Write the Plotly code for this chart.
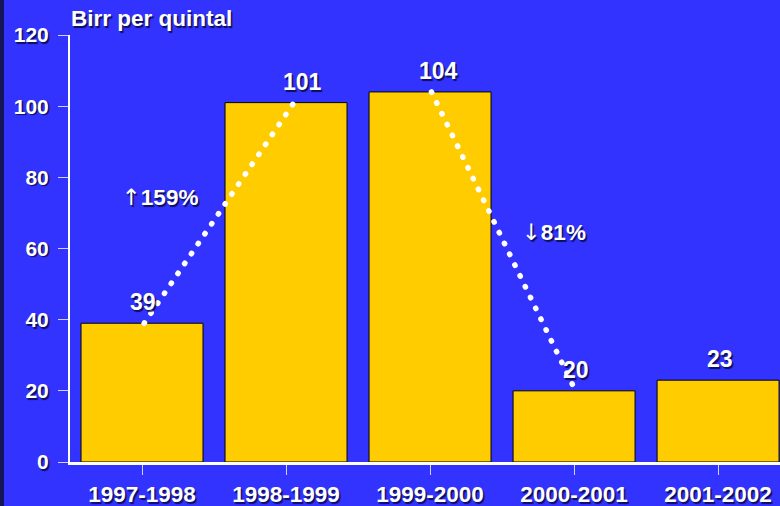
import plotly.graph_objects as go

# ---- data ----
seasons = ["1997-1998", "1998-1999", "1999-2000", "2000-2001", "2001-2002"]
prices = [39, 101, 104, 20, 23]
y_ticks = [0, 20, 40, 60, 80, 100, 120]
y_title = "Birr per quintal"

# changes shown with dotted trend lines (from index, to index)
changes = [(0, 1), (2, 3)]

# ---- style ----
BG = "#3333FF"
BAR = "#FFCC00"
FONT = "Liberation Sans"
SHADOW = "1.5px 1.5px 1px rgba(0,0,40,0.75)"
label_xshift = [1, 16, 8, 2, 2]
line_dx = [(0.015, 0.055), (0.01, 0.01)]
pct_pos = [(0.125, 74.5), (2.86, 64.6)]

idx = list(range(len(seasons)))

fig = go.Figure()
fig.add_trace(go.Bar(
    x=idx, y=prices, width=0.847,
    marker=dict(color=BAR, line=dict(color="#000000", width=1)),
    hoverinfo="skip", showlegend=False,
))

for k, (a, b) in enumerate(changes):
    fig.add_trace(go.Scatter(
        x=[idx[a] + line_dx[k][0], idx[b] + line_dx[k][1]],
        y=[prices[a], prices[b]],
        mode="lines",
        line=dict(color="white", width=5.5, dash="0.5px,11.5px"),
        hoverinfo="skip", showlegend=False,
    ))
    pct = round(abs(prices[b] - prices[a]) / prices[a] * 100)
    arrow = "↑" if prices[b] > prices[a] else "↓"
    fig.add_annotation(
        x=pct_pos[k][0], y=pct_pos[k][1],
        text=f"<span style='font-family:DejaVu Sans;font-weight:normal'>{arrow}</span>{pct}%",
        showarrow=False, xanchor="center", yanchor="middle",
        font=dict(family=FONT, size=22.5, color="white", weight="bold", shadow=SHADOW),
    )

for i, v in enumerate(prices):
    fig.add_annotation(
        x=idx[i], y=v, text=str(v), showarrow=False,
        xanchor="center", yanchor="middle", yshift=21, xshift=label_xshift[i],
        font=dict(family=FONT, size=23, color="white", weight="bold", shadow=SHADOW),
    )

fig.add_annotation(
    x=0, y=1, xref="paper", yref="paper", text=y_title, showarrow=False,
    xanchor="left", yanchor="middle", yshift=17, xshift=-1,
    font=dict(family=FONT, size=22.5, color="white", weight="bold", shadow=SHADOW),
)

# dark strip on the left edge of the slide
fig.add_shape(
    type="rect", xref="paper", yref="paper",
    x0=-70 / 710, x1=-66 / 710, y0=-44 / 427, y1=1 + 35 / 427,
    fillcolor="#15155a", line=dict(width=0), layer="below",
)

fig.update_layout(
    width=780, height=506,
    margin=dict(l=70, r=0, t=35, b=44, autoexpand=False),
    paper_bgcolor=BG, plot_bgcolor=BG,
    showlegend=False,
    xaxis=dict(
        range=[-0.5, 4.43], tickvals=idx, ticktext=seasons,
        showgrid=False, zeroline=False, automargin=False,
        showline=True, linecolor="white", linewidth=3,
        ticks="outside", ticklen=10, tickwidth=1, tickcolor="#d0d0ff",
        ticklabelstandoff=0,
        tickfont=dict(family=FONT, size=22.5, color="white", weight="bold", shadow=SHADOW),
    ),
    yaxis=dict(
        range=[0, 120], tickvals=y_ticks,
        showgrid=False, zeroline=False, automargin=False,
        showline=True, linecolor="white", linewidth=2,
        ticks="outside", ticklen=10, tickwidth=1, tickcolor="#d0d0ff",
        ticklabelstandoff=5,
        tickfont=dict(family=FONT, size=21, color="white", weight="bold", shadow=SHADOW),
    ),
)

post = (
    "document.body.style.margin='0';"
    "document.body.style.background='#3333FF';"
    "document.querySelectorAll('.scatterlayer .js-line').forEach(function(e){"
    "e.style.strokeLinecap='round';});"
)

fig.write_html("out.html", config={"displayModeBar": False}, post_script=post)
